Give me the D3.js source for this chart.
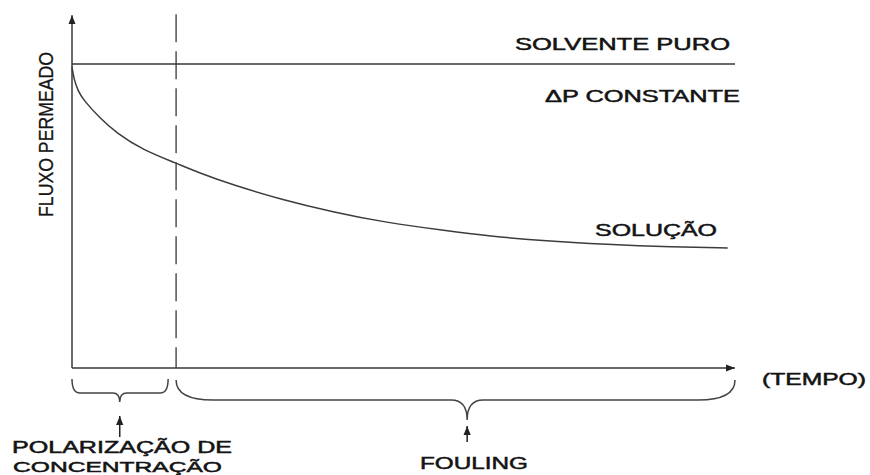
<!DOCTYPE html>
<html>
<meta charset="utf-8">
<title>Fluxo permeado</title>
<head>
  <script src="https://cdnjs.cloudflare.com/ajax/libs/d3/7.8.5/d3.min.js"></script>
  <style>
    body { margin: 0; background: #fff; }
    text { font-family: "Liberation Sans", Arial, sans-serif; fill: #141414; stroke: #141414; stroke-width: 0.5px; }
  </style>
</head>
<body>
<script>
// curve: time (0..100) vs relative flux (solvent = 1)
var times = [0, 0.3, 0.9, 1.7, 4.2, 6.7, 10.7, 15.7, 19.3, 24.3, 31.8, 39.4, 46.9, 56.6, 63, 70.6, 80.7, 90.6, 98.9];
var flux  = [0.99, 0.95, 0.912, 0.882, 0.822, 0.773, 0.717, 0.674, 0.641, 0.602, 0.553, 0.513, 0.48, 0.451, 0.434, 0.419, 0.406, 0.398, 0.395];
var solventFlux = 1.0;
var tMax = 100, fluxMax = 1.16;
var polarizationEnd = 15.7;

// phases marked with braces under the time axis
var phaseStart = [0, 15.7];
var phaseEnd   = [14.5, 100];
var phaseTip   = [7.2, 59.6];
var phaseLabel = [["POLARIZAÇÃO DE", "CONCENTRAÇÃO"], ["FOULING"]];

var W = 870, H = 475;
var svg = d3.select("body").append("svg")
    .attr("width", W)
    .attr("height", H);

var x = d3.scaleLinear().domain([0, tMax]).range([72, 735]);
var y = d3.scaleLinear().domain([0, 1]).range([368, 64]);

var ink = "#383838";

// arrow heads
var defs = svg.append("defs");
defs.append("marker")
    .attr("id", "arr")
    .attr("viewBox", "0 0 10 10")
    .attr("refX", 10).attr("refY", 5)
    .attr("markerWidth", 9).attr("markerHeight", 9)
    .attr("markerUnits", "userSpaceOnUse")
    .attr("orient", "auto")
  .append("path")
    .attr("d", "M0,1L10,5L0,9Z")
    .attr("fill", "#222");

// axes
svg.append("line")
    .attr("x1", x(0)).attr("y1", y(0))
    .attr("x2", x(0)).attr("y2", y(fluxMax))
    .attr("stroke", ink).attr("stroke-width", 1.5)
    .attr("marker-end", "url(#arr)");
svg.append("line")
    .attr("x1", x(0)).attr("y1", y(0))
    .attr("x2", x(tMax)).attr("y2", y(0))
    .attr("stroke", ink).attr("stroke-width", 1.3)
    .attr("marker-end", "url(#arr)");

// pure solvent line
svg.append("line")
    .attr("x1", x(0)).attr("y1", y(solventFlux))
    .attr("x2", x(tMax)).attr("y2", y(solventFlux))
    .attr("stroke", ink).attr("stroke-width", 1.5);

// end of concentration polarization
svg.append("line")
    .attr("x1", x(polarizationEnd)).attr("y1", y(fluxMax) - 1)
    .attr("x2", x(polarizationEnd)).attr("y2", y(0))
    .attr("stroke", ink).attr("stroke-width", 1.3)
    .attr("stroke-dasharray", "28,9");

// solution flux
var pts = times.map(function(t, i) { return [t, flux[i]]; });
var line = d3.line()
    .x(function(d) { return x(d[0]); })
    .y(function(d) { return y(d[1]); })
    .curve(d3.curveBasis);
svg.append("path")
    .attr("d", line(pts))
    .attr("fill", "none")
    .attr("stroke", "#3c3c3c")
    .attr("stroke-width", 1.5);

// braces
function brace(x0, x1, xc, top, h, tip, cw, ch) {
  var p = d3.path();
  p.moveTo(x0, top);
  p.quadraticCurveTo(x0, h, x0 + cw, h);
  p.lineTo(xc - ch, h);
  p.quadraticCurveTo(xc, h, xc, tip);
  p.quadraticCurveTo(xc, h, xc + ch, h);
  p.lineTo(x1 - cw, h);
  p.quadraticCurveTo(x1, h, x1, top);
  return p.toString();
}
var braceTop = [379, 380], braceMid = [393, 400], braceTipY = [402, 420];
var braceCorner = [8, 37], braceCusp = [7, 16];
var arrowTop = [416, 426], arrowBottom = [437, 442];

phaseStart.forEach(function(s, i) {
  svg.append("path")
      .attr("d", brace(x(s), x(phaseEnd[i]), x(phaseTip[i]), braceTop[i], braceMid[i], braceTipY[i], braceCorner[i], braceCusp[i]))
      .attr("fill", "none")
      .attr("stroke", "#444")
      .attr("stroke-width", 1.5);
  svg.append("line")
      .attr("x1", x(phaseTip[i])).attr("y1", arrowBottom[i])
      .attr("x2", x(phaseTip[i])).attr("y2", arrowTop[i])
      .attr("stroke", "#222").attr("stroke-width", 1.5)
      .attr("marker-end", "url(#arr)");
});

// labels
function label(str, x0, base, len, size) {
  return svg.append("text")
      .attr("x", x0).attr("y", base)
      .attr("font-size", size)
      .attr("textLength", len)
      .attr("lengthAdjust", "spacingAndGlyphs")
      .text(str);
}
label("SOLVENTE PURO", 515, 50, 215, 17);
label("\u0394P CONSTANTE", 545, 102, 195, 17);
label("SOLUÇÃO", 595, 236, 122, 17);
label("(TEMPO)", 762, 385, 104, 17);
label(phaseLabel[0][0], 12, 453, 220, 16);
label(phaseLabel[0][1], 13, 471.5, 209, 15.5);
label(phaseLabel[1][0], 420, 469, 108, 17);

svg.append("text")
    .attr("transform", "translate(53,217) rotate(-90)")
    .attr("font-size", 21)
    .style("font-family", "'Liberation Sans Narrow', 'Liberation Sans', sans-serif")
    .style("stroke-width", "0.3px")
    .attr("textLength", 165)
    .attr("lengthAdjust", "spacingAndGlyphs")
    .text("FLUXO PERMEADO");
</script>
</body>
</html>
